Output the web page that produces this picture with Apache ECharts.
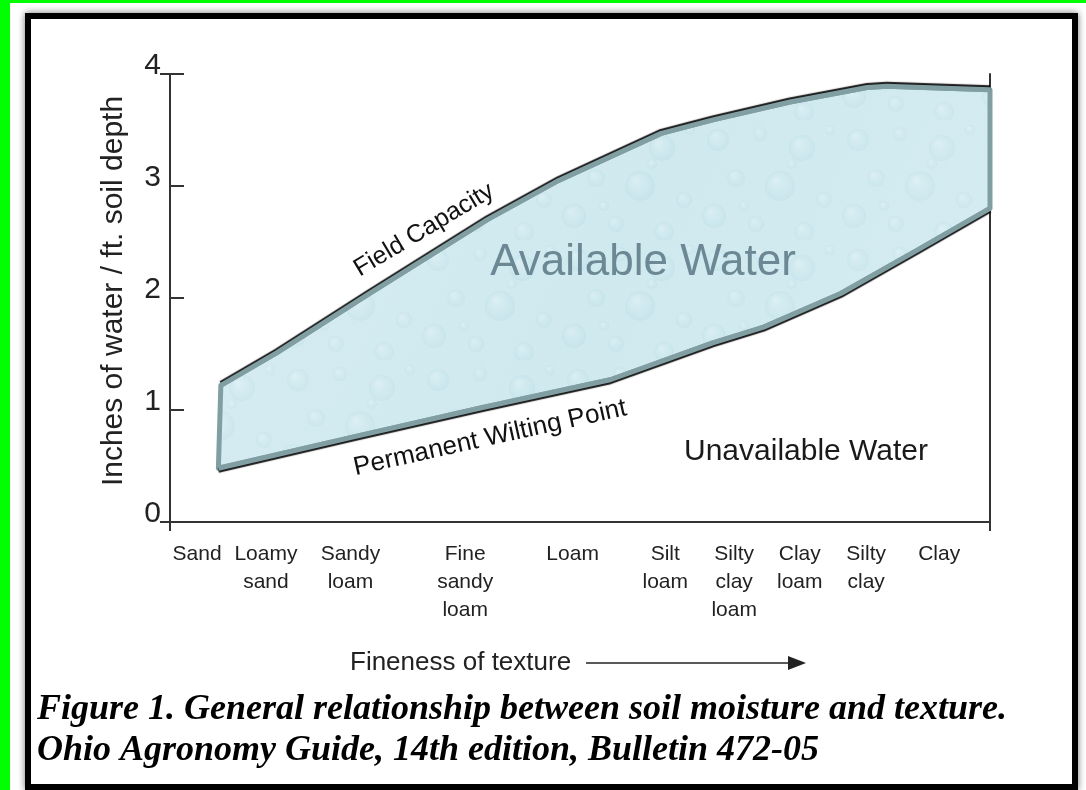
<!DOCTYPE html>
<html>
<head>
<meta charset="utf-8">
<script src="https://cdn.jsdelivr.net/npm/echarts@6/dist/echarts.min.js"></script>
<style>
  html, body { margin:0; padding:0; width:1086px; height:790px; overflow:hidden; background:#00ff00; }
  #paper { position:absolute; left:10px; top:3px; width:1076px; height:787px; background:#ffffff; }
  #frame { position:absolute; left:25px; top:13px; width:1041px; height:765px; border:6px solid #000;
           box-shadow: 0 0 7px rgba(0,0,0,0.55); background:#fff; }
  #chart { position:absolute; left:0; top:0; width:1086px; height:790px; }
</style>
</head>
<body>
<div id="paper"></div>
<div id="frame"></div>
<div id="chart"></div>
<script>
// ---- data ----
const textureNames = ['Sand', 'Loamy\nsand', 'Sandy\nloam', 'Fine\nsandy\nloam', 'Loam',
                      'Silt\nloam', 'Silty\nclay\nloam', 'Clay\nloam', 'Silty\nclay', 'Clay'];
// position of each texture class along the "fineness of texture" axis (0-100)
const textureX = [3.3, 11.7, 22.0, 36.0, 49.1, 60.4, 68.8, 76.8, 84.9, 93.8];
// Field capacity (inches of water / ft soil depth)
const fcX = [6.2, 13.0, 24.3, 38.7, 47.4, 59.9, 66.2, 75.6, 85.0, 87.4, 100];
const fcY = [1.22, 1.51, 2.04, 2.70, 3.05, 3.47, 3.59, 3.75, 3.88, 3.89, 3.86];
// Permanent wilting point
const pwpX = [5.9, 22.4, 38.0, 53.7, 66.2, 72.4, 81.8, 91.2, 100];
const pwpY = [0.48, 0.76, 1.02, 1.27, 1.60, 1.74, 2.04, 2.43, 2.80];
const yTicks = [0, 1, 2, 3, 4];

const fcData = fcX.map((x, i) => [x, fcY[i]]);
const pwpData = pwpX.map((x, i) => [x, pwpY[i]]);

// subtle water-droplet texture for the available-water area (fixed layout)
function makeDropPattern() {
  const c = document.createElement('canvas');
  c.width = 140; c.height = 120;
  const g = c.getContext('2d');
  g.fillStyle = '#d3ebf0';
  g.fillRect(0, 0, c.width, c.height);
  const drops = [[18, 20, 11], [60, 14, 7], [102, 28, 13], [36, 58, 9], [80, 66, 15], [124, 80, 8],
                 [14, 96, 12], [56, 104, 8], [104, 112, 10], [130, 10, 5], [44, 86, 5], [92, 44, 5]];
  drops.forEach(d => {
    const [x, y, r] = d;
    const grd = g.createRadialGradient(x - r * 0.3, y - r * 0.4, r * 0.1, x, y, r);
    grd.addColorStop(0, 'rgba(255,255,255,0.30)');
    grd.addColorStop(0.6, 'rgba(200,230,237,0.18)');
    grd.addColorStop(1, 'rgba(160,200,212,0.22)');
    g.fillStyle = grd;
    g.beginPath(); g.arc(x, y, r, 0, Math.PI * 2); g.fill();
  });
  return c;
}
const dropPattern = makeDropPattern();

const chart = echarts.init(document.getElementById('chart'), null, { renderer: 'canvas' });
const AX = '#333';
const SANS = 'Arial, "Liberation Sans", Helvetica, sans-serif';
const SERIF = '"Liberation Serif", "Times New Roman", serif';

function labelFor(v) {
  for (let i = 0; i < textureX.length; i++) {
    if (Math.abs(textureX[i] - v) < 1e-6) return textureNames[i];
  }
  return '';
}

const option = {
  backgroundColor: 'transparent',
  animation: false,
  grid: { left: 170, right: 96, top: 74, bottom: 268, containLabel: false },
  xAxis: [
    {
      type: 'value', min: 0, max: 100, position: 'bottom',
      axisLine: { show: true, lineStyle: { color: AX, width: 2 } },
      axisTick: { show: true, customValues: [0, 100], length: 9, inside: false, lineStyle: { color: AX, width: 2 } },
      axisLabel: {
        show: true, customValues: textureX, formatter: labelFor,
        fontFamily: SANS, fontSize: 21, lineHeight: 28, color: '#222', margin: 18,
        verticalAlign: 'top', align: 'center'
      },
      splitLine: { show: false }
    },
    {
      type: 'value', min: 0, max: 100, position: 'top',
      axisLine: { show: true, lineStyle: { color: AX, width: 2 } },
      axisTick: { show: false }, axisLabel: { show: false }, splitLine: { show: false }
    }
  ],
  yAxis: [
    {
      type: 'value', min: 0, max: 4, interval: 1, position: 'left',
      name: 'Inches of water / ft. soil depth', nameLocation: 'middle', nameRotate: 90, nameGap: 41,
      nameTextStyle: { fontFamily: SANS, fontSize: 30, color: '#222', padding: [0, 0, 0, 14] },
      axisLine: { show: true, lineStyle: { color: AX, width: 2 } },
      axisTick: { show: true, inside: true, length: 14, lineStyle: { color: AX, width: 2 } },
      axisLabel: {
        show: true, fontFamily: SANS, fontSize: 30, color: '#222', margin: 9,
        verticalAlign: 'bottom', lineHeight: 17,
        formatter: v => (yTicks.indexOf(v) >= 0 ? String(v) : '')
      },
      splitLine: { show: false }
    },
    {
      type: 'value', min: 0, max: 4, interval: 4, position: 'left',
      axisLine: { show: false },
      axisTick: { show: true, inside: false, length: 10, lineStyle: { color: AX, width: 2 } },
      axisLabel: { show: false }, splitLine: { show: false }
    },
    {
      type: 'value', min: 0, max: 4, position: 'right',
      axisLine: { show: true, lineStyle: { color: AX, width: 2 } },
      axisTick: { show: false }, axisLabel: { show: false }, splitLine: { show: false }
    }
  ],
  series: [
    {
      type: 'custom', name: 'Available Water',
      coordinateSystem: 'cartesian2d', xAxisIndex: 0, yAxisIndex: 0,
      data: [[0, 0]], silent: true, z: 2,
      renderItem: function (params, api) {
        const pts = [];
        fcData.forEach(d => pts.push(api.coord(d)));
        for (let i = pwpData.length - 1; i >= 0; i--) pts.push(api.coord(pwpData[i]));
        return {
          type: 'group',
          children: [
            {
              type: 'polygon', shape: { points: pts },
              style: { fill: { image: dropPattern, repeat: 'repeat' } }
            },
            {
              type: 'polygon', shape: { points: pts },
              style: {
                fill: new echarts.graphic.LinearGradient(0, 0, 1, 1, [
                  { offset: 0, color: 'rgba(225,242,246,0.30)' },
                  { offset: 0.5, color: 'rgba(195,228,236,0.25)' },
                  { offset: 1, color: 'rgba(220,240,245,0.30)' }
                ]),
                stroke: '#819fa3', lineWidth: 5, lineJoin: 'round'
              }
            }
          ]
        };
      }
    },
    {
      type: 'line', name: 'Field Capacity', data: fcData, xAxisIndex: 0, yAxisIndex: 0,
      symbol: 'none', silent: true, z: 3,
      lineStyle: { color: '#819fa3', width: 5, shadowColor: 'rgba(0,0,0,0.9)', shadowBlur: 1, shadowOffsetY: -2 }
    },
    {
      type: 'line', name: 'Permanent Wilting Point', data: pwpData, xAxisIndex: 0, yAxisIndex: 0,
      symbol: 'none', silent: true, z: 3,
      lineStyle: { color: '#819fa3', width: 5, shadowColor: 'rgba(0,0,0,0.9)', shadowBlur: 1, shadowOffsetY: 2 }
    }
  ],
  graphic: [
    { type: 'text', x: 424, y: 230, rotation: 31 * Math.PI / 180, z: 10,
      style: { text: 'Field Capacity', font: '25px ' + SANS, fill: '#111', align: 'center', verticalAlign: 'middle' } },
    { type: 'text', x: 490, y: 438, rotation: 12.5 * Math.PI / 180, z: 10,
      style: { text: 'Permanent Wilting Point', font: '26px ' + SANS, fill: '#111', align: 'center', verticalAlign: 'middle' } },
    { type: 'text', x: 643, y: 263, z: 10,
      style: { text: 'Available Water', font: '44px ' + SANS, fill: 'rgba(95,125,138,0.9)', align: 'center', verticalAlign: 'middle' } },
    { type: 'text', x: 806, y: 452, z: 10,
      style: { text: 'Unavailable Water', font: '30px ' + SANS, fill: '#1a1a1a', align: 'center', verticalAlign: 'middle' } },
    { type: 'text', x: 350, y: 663, z: 10,
      style: { text: 'Fineness of texture', font: '26px ' + SANS, fill: '#222', align: 'left', verticalAlign: 'middle' } },
    { type: 'line', z: 10, shape: { x1: 586, y1: 663, x2: 795, y2: 663 }, style: { stroke: '#222', lineWidth: 1.6 } },
    { type: 'polygon', z: 10, shape: { points: [[788, 656], [806, 663], [788, 670]] }, style: { fill: '#222' } },
    { type: 'text', x: 37, y: 710, z: 10,
      style: { text: 'Figure 1. General relationship between soil moisture and texture.',
               font: 'italic bold 36px ' + SERIF, fill: '#000', align: 'left', verticalAlign: 'middle' } },
    { type: 'text', x: 37, y: 751, z: 10,
      style: { text: 'Ohio Agronomy Guide, 14th edition, Bulletin 472-05',
               font: 'italic bold 36px ' + SERIF, fill: '#000', align: 'left', verticalAlign: 'middle' } }
  ]
};
chart.setOption(option);
</script>
</body>
</html>
